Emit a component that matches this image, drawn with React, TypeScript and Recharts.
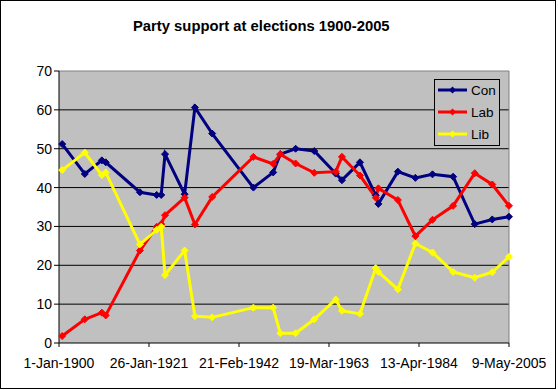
import { LineChart, Line, XAxis, YAxis, CartesianGrid, ReferenceLine } from 'recharts';

const electionDates = [
  '1900-10-01', '1906-01-15', '1910-01-15', '1910-12-10', '1918-12-14', '1922-11-15', '1923-12-06',
  '1924-10-29', '1929-05-30', '1931-10-27', '1935-11-14', '1945-07-05', '1950-02-23', '1951-10-25',
  '1955-05-26', '1959-10-08', '1964-10-15', '1966-03-31', '1970-06-18', '1974-02-28', '1974-10-10',
  '1979-05-03', '1983-06-09', '1987-06-11', '1992-04-09', '1997-05-01', '2001-06-07', '2005-05-05',
];

const conValues = [
  51.2, 43.5, 47.0, 46.5, 38.8, 38.1, 38.1, 48.6, 38.3, 60.6, 53.9, 40.0, 43.9, 48.6,
  50.0, 49.4, 43.6, 41.9, 46.5, 38.0, 35.8, 44.1, 42.5, 43.4, 42.8, 30.6, 31.8, 32.5,
];

const labValues = [
  1.8, 6.1, 7.8, 7.1, 23.8, 29.9, 30.6, 32.9, 37.4, 30.5, 37.6, 47.9, 46.1, 48.6,
  46.2, 43.8, 44.1, 47.9, 43.1, 37.4, 39.8, 36.8, 27.5, 31.7, 35.3, 43.7, 40.8, 35.3,
];

const libValues = [
  44.5, 49.0, 43.2, 43.9, 25.4, 29.1, 29.9, 17.5, 23.8, 6.9, 6.6, 9.1, 9.1, 2.5,
  2.5, 6.1, 11.2, 8.3, 7.5, 19.3, 18.3, 13.8, 25.6, 23.3, 18.3, 16.8, 18.2, 22.2,
];

const tickDates = ['1900-01-01', '1921-01-26', '1942-02-21', '1963-03-19', '1984-04-13', '2005-05-09'];
const tickLabels = ['1-Jan-1900', '26-Jan-1921', '21-Feb-1942', '19-Mar-1963', '13-Apr-1984', '9-May-2005'];
const yTicks = [0, 10, 20, 30, 40, 50, 60, 70];

const series = [
  { key: 'con', name: 'Con', color: '#000080' },
  { key: 'lab', name: 'Lab', color: '#FF0000' },
  { key: 'lib', name: 'Lib', color: '#FFFF00' },
];

const toDay = (s: string) => {
  const [y, m, d] = s.split('-').map(Number);
  return (Date.UTC(y, m - 1, d) - Date.UTC(1900, 0, 1)) / 86400000;
};

const data = electionDates.map((d, i) => ({
  x: toDay(d),
  con: conValues[i],
  lab: labValues[i],
  lib: libValues[i],
}));

const xTicks = tickDates.map(toDay);
const FONT = '"Liberation Sans", Arial, sans-serif';

const diamond = (color: string) => (props: any) => {
  const { cx, cy, index } = props;
  if (cx == null || cy == null) return <g key={index} />;
  const r = 3.5;
  return (
    <path
      key={index}
      d={`M${cx},${cy - r}L${cx + r},${cy}L${cx},${cy + r}L${cx - r},${cy}Z`}
      fill={color}
      stroke={color}
    />
  );
};

// legend drawn as an overlay so it doesn't shrink the plot area
const LegendBox = () => (
  <div
    style={{
      position: 'absolute', left: 433, top: 78, width: 66, height: 67,
      border: '1px solid #000', background: '#C0C0C0', boxSizing: 'border-box',
    }}
  >
    <svg width={64} height={65} style={{ display: 'block' }}>
      {series.map((s, i) => {
        const y = 10 + i * 22;
        return (
          <g key={s.key}>
            <line x1={3} x2={32} y1={y} y2={y} stroke={s.color} strokeWidth={3} />
            <path d={`M17.5,${y - 3.5}L21,${y}L17.5,${y + 3.5}L14,${y}Z`} fill={s.color} />
            <text x={36} y={y + 5} fontSize={13.5} fontFamily={FONT} fill="#000">{s.name}</text>
          </g>
        );
      })}
    </svg>
  </div>
);

export default function App() {
  return (
    <div
      style={{
        position: 'absolute', left: 0, top: 0, width: 556, height: 389,
        border: '1px solid #000', boxSizing: 'border-box', background: '#fff', fontFamily: FONT,
      }}
    >
      <div
        style={{
          position: 'absolute', left: 132, top: 18, fontSize: 14.8, lineHeight: '14.8px',
          fontWeight: 'bold', color: '#000', whiteSpace: 'nowrap',
        }}
      >
        Party support at elections 1900-2005
      </div>
      <LineChart
        width={554}
        height={387}
        data={data}
        margin={{ top: 70, right: 46, bottom: 15, left: 0 }}
        style={{ fontFamily: FONT }}
      >
        <CartesianGrid vertical={false} stroke="#000" fill="#C0C0C0" horizontalValues={[10, 20, 30, 40, 50, 60]} />
        <XAxis
          dataKey="x"
          type="number"
          domain={[xTicks[0], xTicks[xTicks.length - 1]]}
          ticks={xTicks}
          interval={0}
          tickFormatter={(v: number) => tickLabels[xTicks.indexOf(v)] ?? ''}
          stroke="#000"
          tickSize={4}
          tickMargin={11}
          height={30}
          tick={{ fill: '#000', fontSize: 14, fontFamily: FONT }}
        />
        <YAxis
          type="number"
          domain={[0, 70]}
          ticks={yTicks}
          interval={0}
          width={58}
          stroke="#000"
          tickSize={5}
          tickMargin={2}
          tick={{ fill: '#000', fontSize: 14, fontFamily: FONT }}
        />
        <ReferenceLine y={70} stroke="#808080" />
        <ReferenceLine x={xTicks[xTicks.length - 1]} stroke="#808080" />
        {series.map((s) => (
          <Line
            key={s.key}
            type="linear"
            dataKey={s.key}
            name={s.name}
            stroke={s.color}
            strokeWidth={3}
            dot={diamond(s.color)}
            activeDot={false}
            isAnimationActive={false}
          />
        ))}
      </LineChart>
      <LegendBox />
    </div>
  );
}
